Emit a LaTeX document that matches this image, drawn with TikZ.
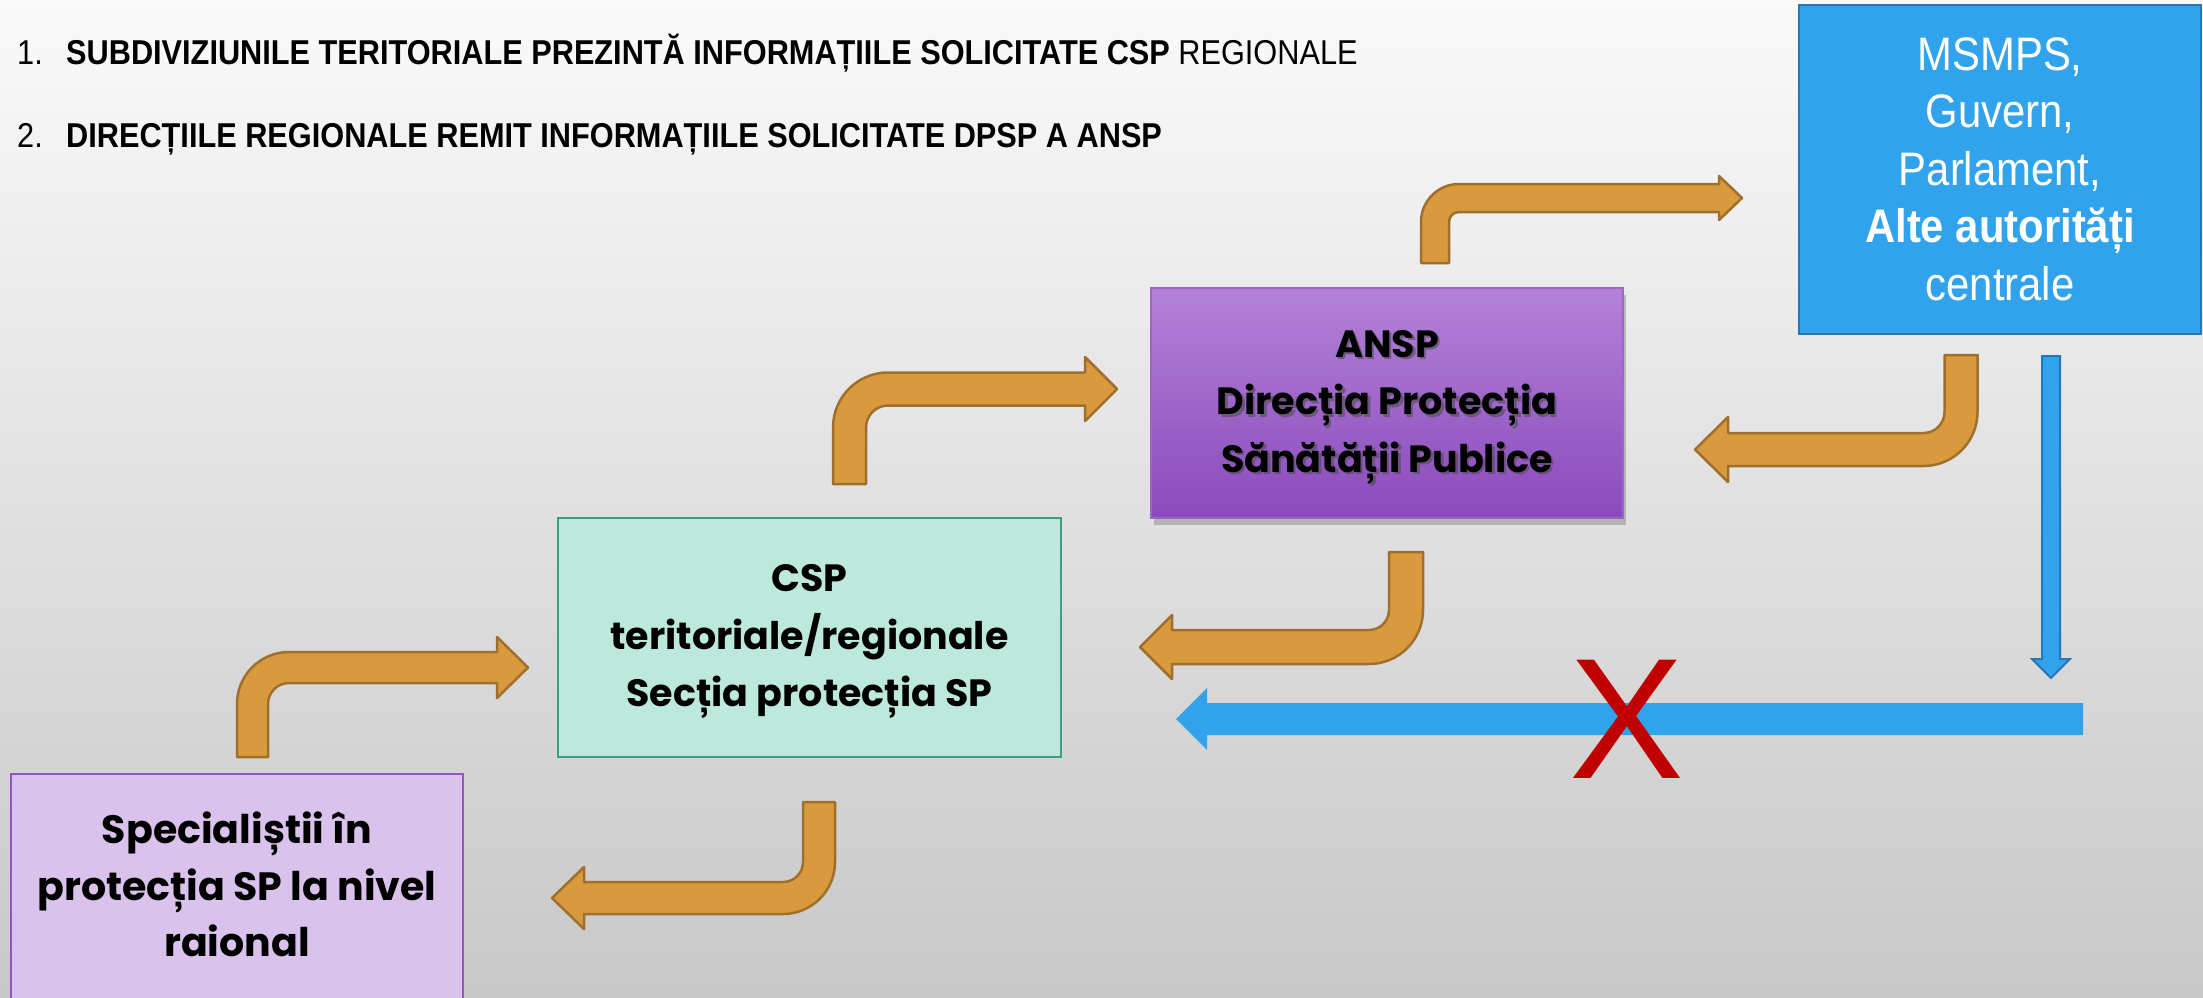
\documentclass[tikz,border=0pt]{standalone}
\usepackage{fontspec}
\setmainfont{Liberation Sans}
\newfontfamily\narrowfont[FakeStretch=0.89]{Liberation Sans}
\newfontfamily\futfont{Poppins}
\usetikzlibrary{calc,shadows}
\definecolor{bgtop}{HTML}{FAFAFA}
\definecolor{bgbot}{HTML}{C8C8C8}
\definecolor{orfill}{HTML}{D99A3E}
\definecolor{oredge}{HTML}{A06F2C}
\definecolor{bluefill}{HTML}{31A3EC}
\definecolor{blueedge}{HTML}{2577B5}
\definecolor{purtop}{HTML}{B382D8}
\definecolor{purbot}{HTML}{8A4ABC}
\definecolor{puredge}{HTML}{9D65CC}
\definecolor{cspfill}{HTML}{BDE8DC}
\definecolor{cspedge}{HTML}{3E9E84}
\definecolor{specfill}{HTML}{D9C3EC}
\definecolor{specedge}{HTML}{9356BD}
\definecolor{xred}{HTML}{C00000}
\tikzset{
  bentarrow/.style={fill=orfill, draw=oredge, line width=2.5pt, line join=round},
  boxbase/.style={rectangle, inner sep=0pt, outer sep=0pt, anchor=north west, align=center},
  titletext/.style={anchor=base west, inner sep=0pt, font=\narrowfont\fontsize{34.5}{40}\selectfont},
}
% up-right bent arrow: xc ybot yc xt w h L R
\newcommand{\bentUR}[8]{%
 \draw[bentarrow] ({#1-#5},#2) -- ({#1-#5},{#3-#5+#8})
 .. controls ({#1-#5},{#3-#5+0.4477*#8}) and ({#1-#5+0.4477*#8},{#3-#5}) .. ({#1-#5+#8},{#3-#5})
 -- ({#4-#7},{#3-#5}) -- ({#4-#7},{#3-#6}) -- (#4,#3) -- ({#4-#7},{#3+#6}) -- ({#4-#7},{#3+#5})
 -- ({#1+#5+(#8-2*#5)},{#3+#5})
 .. controls ({#1+#5+0.4477*(#8-2*#5)},{#3+#5}) and ({#1+#5},{#3+#5+0.4477*(#8-2*#5)}) .. ({#1+#5},{#3+#5+(#8-2*#5)})
 -- ({#1+#5},#2) -- cycle;}
% down-left bent arrow: xc ytop yc xt w h L R
\newcommand{\bentDL}[8]{%
 \draw[bentarrow] ({#1+#5},#2) -- ({#1+#5},{#3+#5-#8})
 .. controls ({#1+#5},{#3+#5-0.4477*#8}) and ({#1+#5-0.4477*#8},{#3+#5}) .. ({#1+#5-#8},{#3+#5})
 -- ({#4+#7},{#3+#5}) -- ({#4+#7},{#3+#6}) -- (#4,#3) -- ({#4+#7},{#3-#6}) -- ({#4+#7},{#3-#5})
 -- ({#1-#5-(#8-2*#5)},{#3-#5})
 .. controls ({#1-#5-0.4477*(#8-2*#5)},{#3-#5}) and ({#1-#5},{#3-#5-0.4477*(#8-2*#5)}) .. ({#1-#5},{#3-#5-(#8-2*#5)})
 -- ({#1-#5},#2) -- cycle;}
\begin{document}
\begin{tikzpicture}[x=1pt,y=-1pt]
\useasboundingbox (0,0) rectangle (2203,997);
\fill[top color=bgtop, bottom color=bgbot] (0,0) rectangle (2203,997);

% title lines
\node[titletext] (n1) at (17,64) {1.};
\node[titletext] (t1) at (66,64) {\textbf{SUBDIVIZIUNILE TERITORIALE PREZINTĂ INFORMAȚIILE SOLICITATE CSP} REGIONALE};
\node[titletext] (n2) at (17,147) {2.};
\node[titletext] (t2) at (66,147) {\textbf{DIRECȚIILE REGIONALE REMIT INFORMAȚIILE SOLICITATE DPSP A ANSP}};

% boxes
\node[boxbase, fill=bluefill, draw=blueedge, line width=2.5pt, minimum width=402, minimum height=329] (msmps) at (1799,5) {};
\node[align=center, inner sep=0pt, text=white, font=\narrowfont\fontsize{47}{57.5}\selectfont]
  (msmpstext) at ([yshift=-4pt]msmps.center)
  {\strut MSMPS,\\ Guvern,\\ Parlament,\\ \textbf{Alte autorități}\\ centrale\strut};

\node[boxbase, top color=purtop, bottom color=purbot, draw=puredge, line width=1.5pt,
  minimum width=472, minimum height=230,
  drop shadow={shadow xshift=3pt, shadow yshift=-7pt, opacity=0.45}] (ansp) at (1151,288) {};
\node[align=center, inner sep=0pt, text=black!70, opacity=0.6, font=\futfont\bfseries\fontsize{38}{57.5}\selectfont]
  (anspsh) at ([shift={(2.5,2.5)}]ansp.center) {\strut ANSP\\ Direcția Protecția\\ Sănătății Publice\strut};
\node[align=center, inner sep=0pt, font=\futfont\bfseries\fontsize{38}{57.5}\selectfont]
  (ansptext) at (ansp.center) {\strut ANSP\\ Direcția Protecția\\ Sănătății Publice\strut};

\node[boxbase, fill=cspfill, draw=cspedge, line width=2pt, minimum width=503, minimum height=239,
  font=\futfont\bfseries\fontsize{38}{57.5}\selectfont] (csp) at (558,518)
  {\strut CSP\\ teritoriale/regionale\\ Secția protecția SP\strut};

\node[boxbase, fill=specfill, draw=specedge, line width=2pt, minimum width=452, minimum height=230,
  font=\futfont\bfseries\fontsize{39.5}{56.5}\selectfont] (spec) at (11,774)
  {\strut Specialiștii în\\ protecția SP la nivel\\ raional\strut};

% orange bent arrows
\bentUR{1435}{263}{198}{1742}{14}{22}{23}{38}
\bentUR{849.5}{484}{389}{1117}{16.5}{32}{32}{55}
\bentUR{252.5}{757}{667.5}{528}{15.5}{30.5}{31}{52}
\bentDL{1961}{355}{449.5}{1695}{16.5}{32.5}{33}{54}
\bentDL{1406}{552}{647}{1140}{17}{32}{32}{54}
\bentDL{819}{802}{898}{552}{16}{31}{32}{52}

% blue arrows
\coordinate (vtop) at (2051,356);
\coordinate (vtip) at (2051,678);
\filldraw[fill=bluefill, draw=blueedge, line width=2pt, line join=miter]
  ($(vtop)+(-9,0)$) -- ($(vtip)+(-9,-19)$) -- ($(vtip)+(-19,-19)$) -- (vtip)
  -- ($(vtip)+(19,-19)$) -- ($(vtip)+(9,-19)$) -- ($(vtop)+(9,0)$) -- cycle;
\coordinate (htail) at (2083,719);
\coordinate (htip) at (1176,719);
\fill[bluefill] ($(htail)+(0,-16)$) -- ($(htip)+(31,-16)$) -- ($(htip)+(31,-31)$) -- (htip)
  -- ($(htip)+(31,31)$) -- ($(htip)+(31,16)$) -- ($(htail)+(0,16)$) -- cycle;

% red cross
\node[anchor=base, inner sep=0pt, text=xred, font=\fontsize{172}{172}\selectfont] (cross) at (1627,778) {X};
\end{tikzpicture}
\end{document}
